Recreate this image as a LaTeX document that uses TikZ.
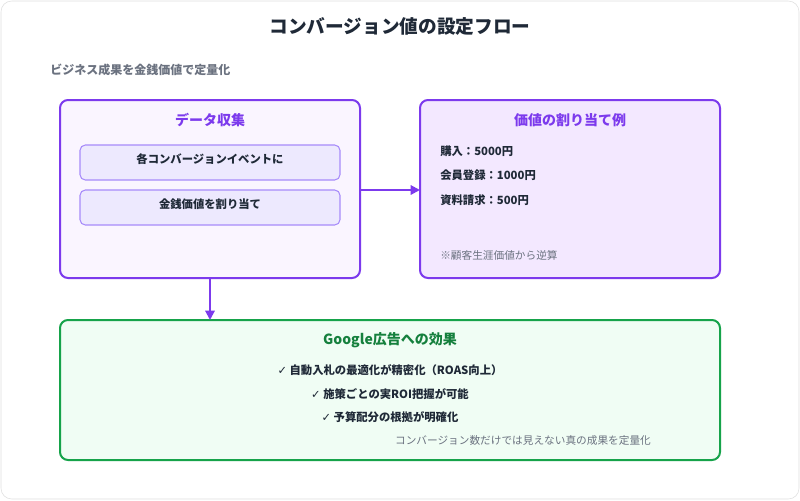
\documentclass[tikz,border=0pt]{standalone}
\usepackage{fontspec}
\setmainfont{Noto Sans CJK JP}
\newfontfamily\symfont{DejaVu Sans}
\usepackage{tikz}
\usetikzlibrary{positioning,arrows.meta}
\definecolor{purp}{HTML}{7C3AED}
\definecolor{purpfill}{HTML}{FAF5FF}
\definecolor{purpfillb}{HTML}{F3E8FF}
\definecolor{innerfill}{HTML}{EDE9FE}
\definecolor{innerline}{HTML}{A78BFA}
\definecolor{grn}{HTML}{16A34A}
\definecolor{grntxt}{HTML}{15803D}
\definecolor{grnfill}{HTML}{F0FDF4}
\definecolor{txt}{HTML}{1F2937}
\definecolor{gry}{HTML}{6B7280}
\newcommand{\chk}{{\symfont\char"2713}}
\tikzset{
  panel/.style={draw=purp, line width=1.5pt, rounded corners=6pt, fill=purpfill},
  inner/.style={draw=innerline, line width=0.8pt, rounded corners=4pt, fill=innerfill},
  head/.style={font=\fontsize{10.5}{12}\selectfont\bfseries},
  body/.style={font=\fontsize{8.5}{10}\selectfont\bfseries, text=txt},
  note/.style={font=\fontsize{8}{9}\selectfont, text=gry},
  flow/.style={-{Triangle[length=7pt,width=7pt]}, draw=purp, line width=1.5pt}
}
\begin{document}
\begin{tikzpicture}[x=0.75pt, y=-0.75pt]
  % frame
  \useasboundingbox (0,0) rectangle (800,500);
  \draw[draw=gray!25, fill=white, rounded corners=8pt] (1,1) rectangle (799,499);

  % titles
  \node (Title) at (400,26) [font=\fontsize{14}{16}\selectfont\bfseries, text=txt] {コンバージョン値の設定フロー};
  \node (Sub) at (50,70) [anchor=west, inner sep=0pt, font=\fontsize{9}{11}\selectfont\bfseries, text=gry] {ビジネス成果を金銭価値で定量化};

  % data panel
  \draw[panel] (60,100) rectangle (360,278);
  \coordinate (DataR) at (360,190);
  \coordinate (DataB) at (210,278);
  \node (DataHead) at (210,120) [head, text=purp] {データ収集};
  \draw[inner] (80,145) rectangle (340,180);
  \node (Item1) at (210,159) [body] {各コンバージョンイベントに};
  \draw[inner] (80,190) rectangle (340,225);
  \node (Item2) at (210,204) [body] {金銭価値を割り当て};

  % value panel
  \draw[panel, fill=purpfillb] (420,100) rectangle (720,278);
  \coordinate (ValL) at (420,190);
  \node (ValHead) at (570,120) [head, text=purp] {価値の割り当て例};
  \node (Val1) at (440,151) [anchor=west, inner sep=0pt, body] {購入：5000円};
  \node (Val2) at (440,175) [anchor=west, inner sep=0pt, body] {会員登録：1000円};
  \node (Val3) at (440,200) [anchor=west, inner sep=0pt, body] {資料請求：500円};
  \node (ValNote) at (440,255) [anchor=west, inner sep=0pt, note] {※顧客生涯価値から逆算};

  % effect panel
  \draw[panel, draw=grn, fill=grnfill] (60,320) rectangle (720,460);
  \coordinate (EffT) at (210,320);
  \node (EffHead) at (390,340) [head, text=grntxt] {Google広告への効果};
  \node (Eff1) at (390,370) [body] {\chk\ 自動入札の最適化が精密化（ROAS向上）};
  \node (Eff2) at (390,394) [body] {\chk\ 施策ごとの実ROI把握が可能};
  \node (Eff3) at (390,417) [body] {\chk\ 予算配分の根拠が明確化};
  \node (EffNote) at (523,440) [note] {コンバージョン数だけでは見えない真の成果を定量化};

  % arrows
  \draw[flow] (DataR) -- (ValL);
  \draw[flow] (DataB) -- (EffT);
\end{tikzpicture}
\end{document}
